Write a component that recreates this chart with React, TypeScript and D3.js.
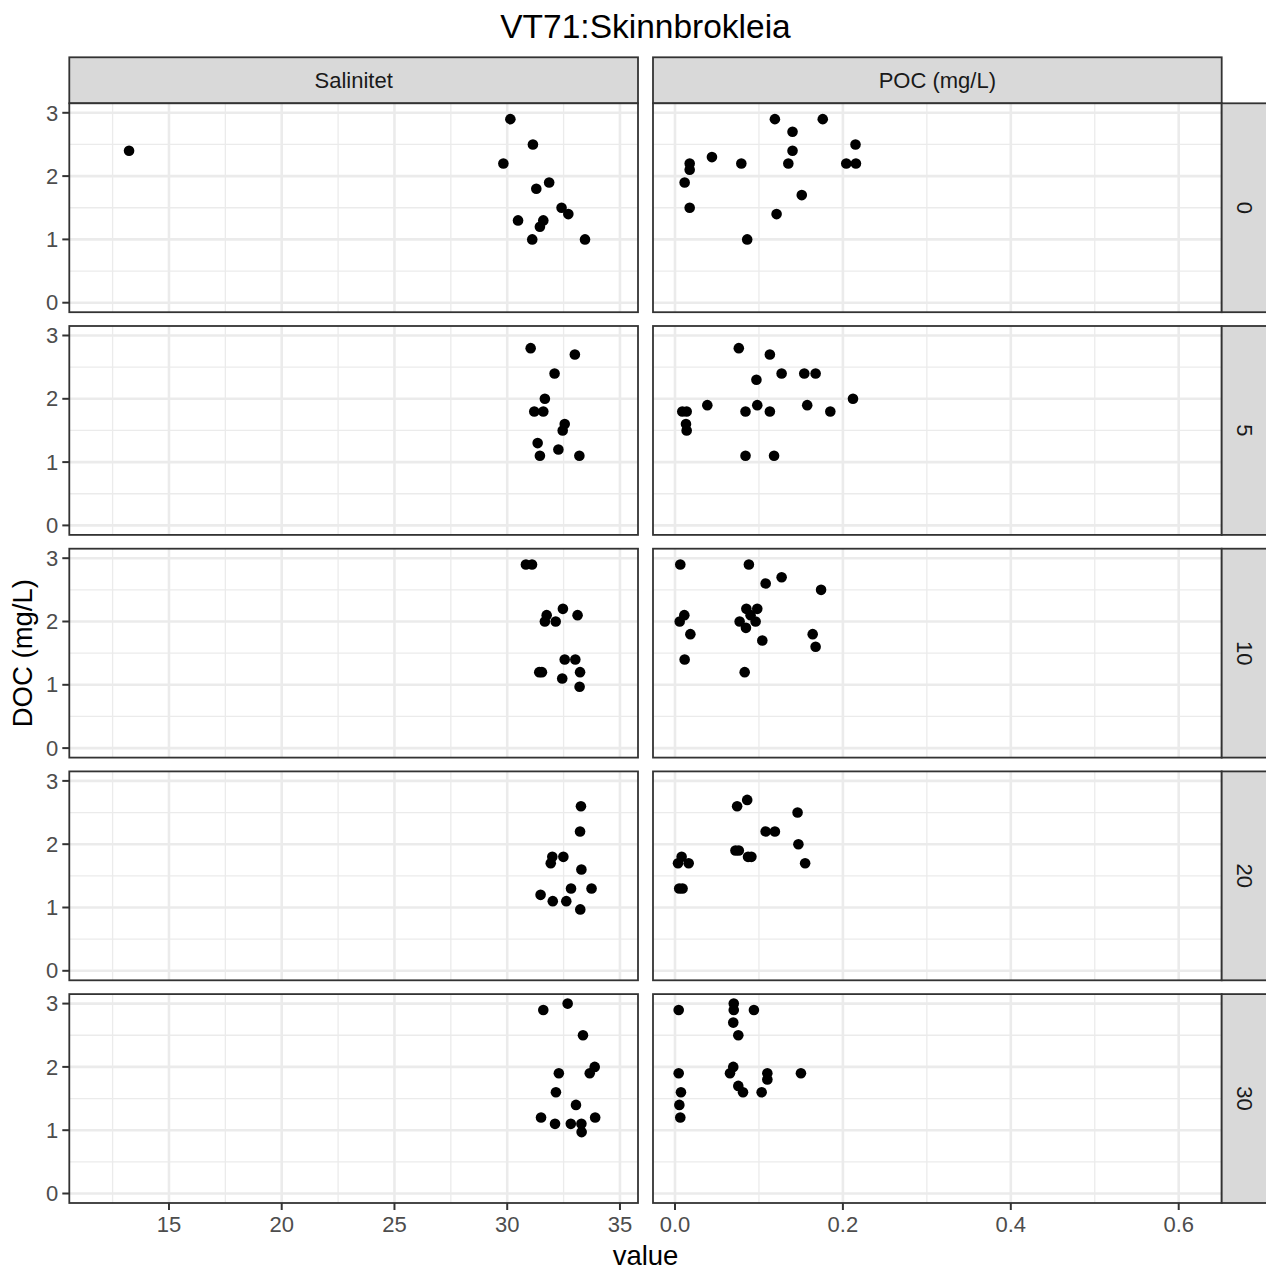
import * as d3 from "d3";

// facet rows (depth) and columns (variable)
const depths = ["0", "5", "10", "20", "30"];
const facets = ["Salinitet", "POC (mg/L)"];
const salTicks = [15, 20, 25, 30, 35];
const salMinor = [12.5, 17.5, 22.5, 27.5, 32.5];
const pocTicks = [0, 0.2, 0.4, 0.6];
const pocMinor = [0.1, 0.3, 0.5];
const docTicks = [0, 1, 2, 3];
const docMinor = [0.5, 1.5, 2.5];

// [value, DOC]
const sal0 = [[13.23, 2.4], [30.14, 2.9], [31.14, 2.5], [29.83, 2.2], [31.86, 1.9], [31.29, 1.8], [32.41, 1.5], [32.71, 1.4], [30.48, 1.3], [31.6, 1.3], [31.45, 1.2], [31.11, 1.0], [33.45, 1.0]];
const poc0 = [[0.119, 2.9], [0.176, 2.9], [0.14, 2.7], [0.215, 2.5], [0.14, 2.4], [0.044, 2.3], [0.0175, 2.2], [0.0175, 2.1], [0.079, 2.2], [0.135, 2.2], [0.204, 2.2], [0.2155, 2.2], [0.0115, 1.9], [0.151, 1.7], [0.0175, 1.5], [0.121, 1.4], [0.086, 1.0]];
const sal5 = [[31.04, 2.8], [33.0, 2.7], [32.1, 2.4], [31.67, 2.0], [31.2, 1.8], [31.6, 1.8], [32.55, 1.6], [32.46, 1.5], [31.35, 1.3], [32.27, 1.2], [31.45, 1.1], [33.2, 1.1]];
const poc5 = [[0.076, 2.8], [0.113, 2.7], [0.127, 2.4], [0.154, 2.4], [0.1675, 2.4], [0.097, 2.3], [0.0385, 1.9], [0.098, 1.9], [0.1575, 1.9], [0.212, 2.0], [0.0087, 1.8], [0.0139, 1.8], [0.084, 1.8], [0.113, 1.8], [0.185, 1.8], [0.0131, 1.6], [0.0139, 1.5], [0.084, 1.1], [0.118, 1.1]];
const sal10 = [[30.83, 2.9], [31.1, 2.9], [32.47, 2.2], [33.12, 2.1], [31.75, 2.1], [31.67, 2.0], [32.15, 2.0], [32.55, 1.4], [33.02, 1.4], [31.42, 1.2], [31.54, 1.2], [33.23, 1.2], [32.44, 1.1], [33.21, 0.97]];
const poc10 = [[0.0063, 2.9], [0.088, 2.9], [0.127, 2.7], [0.108, 2.6], [0.174, 2.5], [0.085, 2.2], [0.098, 2.2], [0.0111, 2.1], [0.09, 2.1], [0.0056, 2.0], [0.077, 2.0], [0.096, 2.0], [0.0845, 1.9], [0.0183, 1.8], [0.164, 1.8], [0.104, 1.7], [0.1675, 1.6], [0.0115, 1.4], [0.083, 1.2]];
const sal20 = [[33.27, 2.6], [33.23, 2.2], [32.0, 1.8], [31.93, 1.7], [32.49, 1.8], [33.29, 1.6], [32.83, 1.3], [33.74, 1.3], [31.48, 1.2], [32.02, 1.1], [32.62, 1.1], [33.24, 0.97]];
const poc20 = [[0.086, 2.7], [0.074, 2.6], [0.146, 2.5], [0.108, 2.2], [0.119, 2.2], [0.147, 2.0], [0.072, 1.9], [0.076, 1.9], [0.087, 1.8], [0.091, 1.8], [0.0079, 1.8], [0.0036, 1.7], [0.0163, 1.7], [0.155, 1.7], [0.005, 1.3], [0.009, 1.3]];
const sal30 = [[32.68, 3.0], [31.6, 2.9], [33.36, 2.5], [33.88, 2.0], [33.66, 1.9], [32.29, 1.9], [32.16, 1.6], [33.05, 1.4], [31.5, 1.2], [33.9, 1.2], [32.12, 1.1], [32.82, 1.1], [33.29, 1.1], [33.3, 0.97]];
const poc30 = [[0.07, 3.0], [0.07, 2.9], [0.0044, 2.9], [0.094, 2.9], [0.0694, 2.7], [0.0754, 2.5], [0.0694, 2.0], [0.0655, 1.9], [0.0044, 1.9], [0.11, 1.9], [0.11, 1.8], [0.15, 1.9], [0.0754, 1.7], [0.081, 1.6], [0.1032, 1.6], [0.0071, 1.6], [0.0052, 1.4], [0.0063, 1.2]];

const salRows = [sal0, sal5, sal10, sal20, sal30];
const pocRows = [poc0, poc5, poc10, poc20, poc30];

const W = 1266;
const H = 1273;
const panelLeft = [69.3, 653];
const panelW = 568.7;
const top0 = 103.3;
const panelH = 208.9;
const rowStep = 222.7;
const stripH = 46;
const font = "'Liberation Sans', Arial, sans-serif";

export default function App() {
  const xSal = d3.scaleLinear().domain([10.58, 35.8]).range([0, panelW]);
  const xPoc = d3.scaleLinear().domain([-0.0262, 0.6512]).range([0, panelW]);
  const y = d3.scaleLinear().domain([-0.15, 3.15]).range([panelH, 0]);
  const xs = [xSal, xPoc];
  const ticks = [salTicks, pocTicks];
  const minors = [salMinor, pocMinor];
  const fmt = [d3.format("d"), d3.format(".1f")];
  const bottom = top0 + rowStep * 4 + panelH;

  return (
    <div style={{ position: "absolute", left: 0, top: 0 }}>
      <svg width={W} height={H} style={{ display: "block", fontFamily: font }}>
        <rect width={W} height={H} fill="#fff" />
        <text x={(panelLeft[0] + panelLeft[1] + panelW) / 2} y={38} textAnchor="middle" fontSize={33.5} fill="#000">
          VT71:Skinnbrokleia
        </text>

        {facets.map((f, c) => (
          <g key={f} transform={`translate(${panelLeft[c]},${top0 - stripH})`}>
            <rect width={panelW} height={stripH} fill="#D9D9D9" stroke="#333" strokeWidth={1.8} />
            <text x={panelW / 2} y={stripH / 2} dy="0.35em" textAnchor="middle" fontSize={22} fill="#1A1A1A">
              {f}
            </text>
          </g>
        ))}

        {depths.map((d, r) => {
          const ty = top0 + r * rowStep;
          return (
            <g key={d}>
              {facets.map((f, c) => {
                const x = xs[c];
                const pts = c === 0 ? salRows[r] : pocRows[r];
                return (
                  <g key={f} transform={`translate(${panelLeft[c]},${ty})`}>
                    <rect width={panelW} height={panelH} fill="#fff" />
                    {docMinor.map((v) => (
                      <line key={"ym" + v} x1={0} x2={panelW} y1={y(v)} y2={y(v)} stroke="#EBEBEB" strokeWidth={1.3} />
                    ))}
                    {minors[c].map((v) => (
                      <line key={"xm" + v} x1={x(v)} x2={x(v)} y1={0} y2={panelH} stroke="#EBEBEB" strokeWidth={1.3} />
                    ))}
                    {docTicks.map((v) => (
                      <line key={"y" + v} x1={0} x2={panelW} y1={y(v)} y2={y(v)} stroke="#EBEBEB" strokeWidth={2.6} />
                    ))}
                    {ticks[c].map((v) => (
                      <line key={"x" + v} x1={x(v)} x2={x(v)} y1={0} y2={panelH} stroke="#EBEBEB" strokeWidth={2.6} />
                    ))}
                    {pts.map((p, i) => (
                      <circle key={i} cx={x(p[0])} cy={y(p[1])} r={5.3} fill="#000" />
                    ))}
                    <rect width={panelW} height={panelH} fill="none" stroke="#333" strokeWidth={1.8} />
                  </g>
                );
              })}
              <g transform={`translate(${panelLeft[1] + panelW},${ty})`}>
                <rect width={stripH} height={panelH} fill="#D9D9D9" stroke="#333" strokeWidth={1.8} />
                <text
                  transform={`translate(${stripH / 2},${panelH / 2}) rotate(90)`}
                  dy="0.35em"
                  textAnchor="middle"
                  fontSize={22}
                  fill="#1A1A1A"
                >
                  {d}
                </text>
              </g>
              <g transform={`translate(${panelLeft[0]},${ty})`}>
                {docTicks.map((v) => (
                  <g key={v}>
                    <line x1={-7} x2={0} y1={y(v)} y2={y(v)} stroke="#333" strokeWidth={2} />
                    <text x={-11} y={y(v)} dy="0.35em" textAnchor="end" fontSize={22} fill="#4D4D4D">
                      {v}
                    </text>
                  </g>
                ))}
              </g>
            </g>
          );
        })}

        {facets.map((f, c) => (
          <g key={f} transform={`translate(${panelLeft[c]},${bottom})`}>
            {ticks[c].map((v) => (
              <g key={v}>
                <line x1={xs[c](v)} x2={xs[c](v)} y1={0} y2={7} stroke="#333" strokeWidth={2} />
                <text x={xs[c](v)} y={29} textAnchor="middle" fontSize={22} fill="#4D4D4D">
                  {fmt[c](v)}
                </text>
              </g>
            ))}
          </g>
        ))}

        <text x={(panelLeft[0] + panelLeft[1] + panelW) / 2} y={1265} textAnchor="middle" fontSize={27.5} fill="#000">
          value
        </text>
        <text
          transform={`translate(22,${(top0 + bottom) / 2}) rotate(-90)`}
          dy="0.35em"
          textAnchor="middle"
          fontSize={27.5}
          fill="#000"
        >
          DOC (mg/L)
        </text>
      </svg>
    </div>
  );
}
